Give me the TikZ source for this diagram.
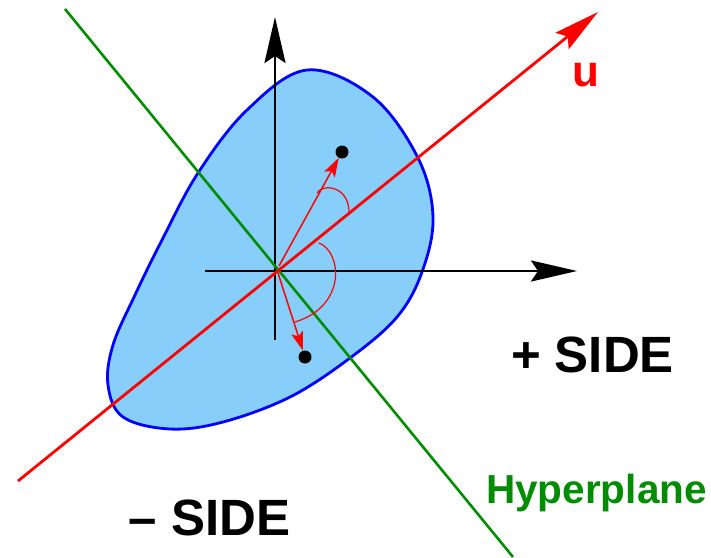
\documentclass[tikz,border=0pt]{standalone}
\usepackage{fontspec}
\setmainfont{Liberation Sans}
\usetikzlibrary{arrows.meta}
\definecolor{blobfill}{RGB}{135,206,250}
\definecolor{hypgreen}{RGB}{0,140,0}
\begin{document}
\begin{tikzpicture}[x=1pt,y=-1pt,
  bigtip/.style={-{Stealth[length=46pt,width=21pt,inset=7pt]}},
  smalltip/.style={-{Stealth[length=19pt,width=12pt,inset=4pt]}},
  axisline/.style={black,line width=2.9pt},
  dotnode/.style={circle,fill=black,inner sep=0pt,minimum size=13pt},
  lbl/.style={font=\bfseries,anchor=base,inner sep=0pt}]
\useasboundingbox (0,0) rectangle (711,557);
% blob
\draw[blue,line width=2.8pt,fill=blobfill] plot[smooth cycle,tension=0.6] coordinates {
 (307,70) (373,97) (418,158) (433,217) (422,272) (397,317) (350,358) (290,397)
 (223,422) (170,429) (123,417) (108,385) (113,345) (135,295) (162,240) (198,173) (247,110)};
% coordinates
\coordinate (O) at (277,271);
\coordinate (vb) at (275,340);
\coordinate (vt) at (275,17);
\coordinate (hl) at (205,271);
\coordinate (hr) at (577,271);
\coordinate (ul) at (18,481);
\coordinate (ut) at (598,12);
\coordinate (gt) at (65,9);
\coordinate (gb) at (513,557);
% axes
\draw[axisline,bigtip] (vb) -- (vt);
\draw[axisline,bigtip] (hl) -- (hr);
% hyperplane
\draw[hypgreen,line width=2.6pt] (gt) -- (gb);
% u line
\draw[red,line width=2.8pt,bigtip] (ul) -- (ut);
% dots
\node[dotnode] (d1) at (342,152) {};
\node[dotnode] (d2) at (305,357) {};
\coordinate (o1) at (279,266);
\coordinate (o2) at (278,273);
\draw[red,line width=1.5pt,smalltip] (o1) -- (d1);
\draw[red,line width=1.5pt,smalltip] (o2) -- (d2);
% angle arcs
\coordinate (a1s) at (317,193);
\coordinate (a1e) at (349,214);
\draw[red,line width=1.2pt] (a1s) .. controls (323,183) and (350,186) .. (a1e);
\coordinate (a2s) at (319,243);
\coordinate (a2e) at (295,322);
\draw[red,line width=1.2pt] (a2s) .. controls (342,252) and (347,306) .. (a2e);
% labels
\node[lbl,red,font=\fontsize{44}{50}\selectfont\bfseries] (u) at (586,86) {u};
\node[lbl,font=\fontsize{51}{60}\selectfont\bfseries] (plus) at (592.5,372) {+ SIDE};
\node[lbl,font=\fontsize{51}{60}\selectfont\bfseries] (minus) at (209.5,535) {– SIDE};
\node[lbl,hypgreen,font=\fontsize{40.5}{48}\selectfont\bfseries] (hyp) at (596.5,503) {Hyperplane};
\end{tikzpicture}
\end{document}
